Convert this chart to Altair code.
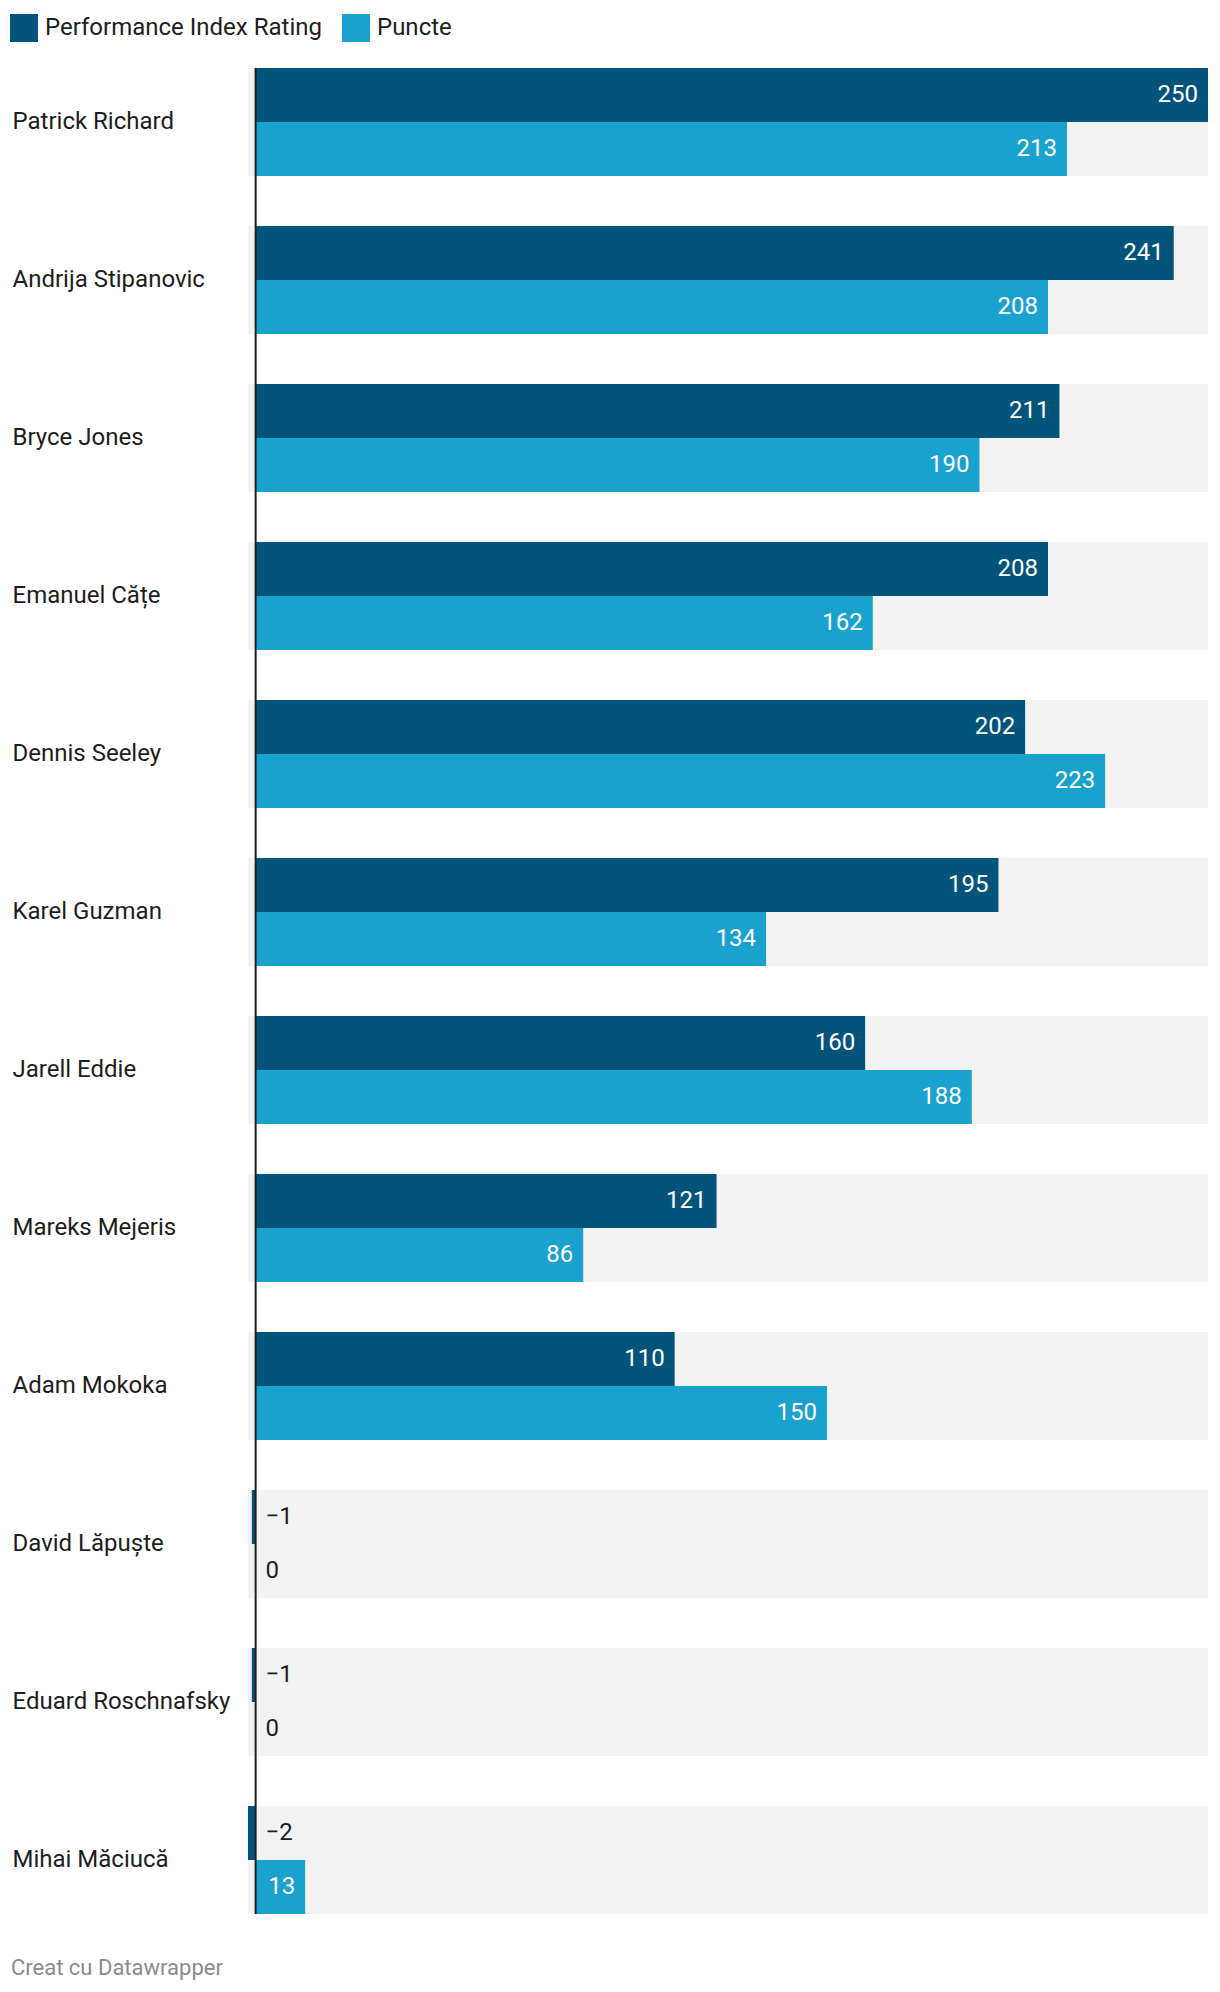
import altair as alt
import pandas as pd

names = ["Patrick Richard", "Andrija Stipanovic", "Bryce Jones", "Emanuel Cățe",
         "Dennis Seeley", "Karel Guzman", "Jarell Eddie", "Mareks Mejeris",
         "Adam Mokoka", "David Lăpuște", "Eduard Roschnafsky", "Mihai Măciucă"]
pir = [250, 241, 211, 208, 202, 195, 160, 121, 110, -1, -1, -2]
puncte = [213, 208, 190, 162, 223, 134, 188, 86, 150, 0, 0, 13]
series = ["Performance Index Rating", "Puncte"]
colors = ["#03547b", "#1aa2cf"]

rows = []
for n, a, b in zip(names, pir, puncte):
    rows.append({"name": n, "series": series[0], "value": a})
    rows.append({"name": n, "series": series[1], "value": b})
df = pd.DataFrame(rows)
df["label"] = df["value"].map(lambda v: str(v).replace("-", "\u2212"))
df["inside"] = df["value"] > 0

bg = pd.DataFrame({"name": names, "lo": [-2] * len(names), "hi": [250] * len(names)})

FONT = "Roboto"
FS = 24
W, H = 960, 1846

xs = alt.Scale(domain=[-2, 250], nice=False, zero=False)
ys = alt.Scale(domain=names, paddingInner=50 / 158, paddingOuter=0)

y_enc = alt.Y("name:N", scale=ys, sort=names,
              axis=alt.Axis(title=None, labelAlign="left", labelPadding=236,
                            ticks=False, tickSize=0, domain=False, grid=False,
                            labelFont=FONT, labelFontSize=FS, labelColor="#1d1d1d",
                            labelBaseline="middle", labelLimit=300))

background = alt.Chart(bg).mark_bar(color="#f2f2f2").encode(
    x=alt.X("lo:Q", scale=xs, axis=None),
    x2="hi:Q",
    y=y_enc,
)

bars = alt.Chart(df).mark_bar().encode(
    x=alt.X("value:Q", scale=xs, axis=None),
    x2=alt.datum(0),
    y=alt.Y("name:N", scale=ys, sort=names),
    yOffset=alt.YOffset("series:N", sort=series,
                        scale=alt.Scale(paddingInner=0, paddingOuter=0)),
    color=alt.Color("series:N", sort=series,
                    scale=alt.Scale(domain=series, range=colors),
                    legend=alt.Legend(title=None, orient="none", direction="horizontal",
                                      legendX=-238, legendY=-54,
                                      symbolType="square", symbolSize=784,
                                      symbolStrokeWidth=0, symbolOpacity=1,
                                      labelFont=FONT, labelFontSize=FS,
                                      labelColor="#1d1d1d", labelOffset=7,
                                      labelLimit=0, columnPadding=20)),
)

inside = alt.Chart(df).transform_filter("datum.inside").mark_text(
    align="right", baseline="middle", dx=-10, font=FONT, fontSize=FS, color="white"
).encode(
    x=alt.X("value:Q", scale=xs),
    y=alt.Y("name:N", scale=ys, sort=names),
    yOffset=alt.YOffset("series:N", sort=series),
    text="label:N",
)

outside = alt.Chart(df).transform_filter("!datum.inside").transform_calculate(
    zero="0"
).mark_text(
    align="left", baseline="middle", dx=10, font=FONT, fontSize=FS, color="#1d1d1d"
).encode(
    x=alt.X("zero:Q", scale=xs),
    y=alt.Y("name:N", scale=ys, sort=names),
    yOffset=alt.YOffset("series:N", sort=series),
    text="label:N",
)

axis_line = alt.Chart(pd.DataFrame({"z": [0]})).mark_rule(color="#1d1d1d", strokeWidth=2).encode(
    x=alt.X("z:Q", scale=xs),
    y=alt.value(0),
    y2=alt.value(H),
)

footer = alt.Chart(pd.DataFrame({"t": ["Creat cu Datawrapper"]})).mark_text(
    align="left", baseline="alphabetic", font=FONT, fontSize=22, color="#8a8a8a"
).encode(
    x=alt.value(-237),
    y=alt.value(H + 61),
    text="t:N",
)

chart = alt.layer(background, bars, inside, outside, axis_line, footer).properties(
    width=W, height=H,
    autosize=alt.AutoSizeParams(type="none"),
    padding={"left": 240, "top": 60, "right": 4, "bottom": 70},
).configure_view(stroke=None).resolve_scale(y="shared", x="shared")

chart.save("out.html", embed_options={"renderer": "svg", "actions": False})
